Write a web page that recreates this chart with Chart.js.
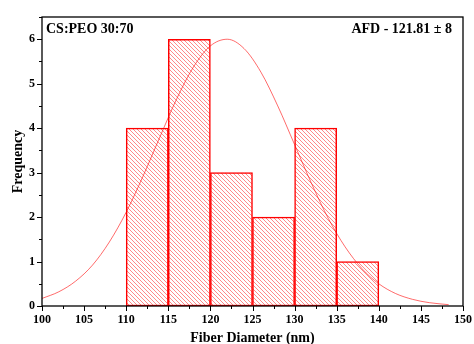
<!DOCTYPE html>
<html>
<head>
<meta charset="utf-8">
<script src="https://cdn.jsdelivr.net/npm/chart.js@4.4.1/dist/chart.umd.min.js"></script>
<style>
  html, body { margin: 0; padding: 0; background: #fff; }
  #wrap { width: 474px; height: 344px; }
</style>
</head>
<body>
<div id="wrap"><canvas id="histChart" width="474" height="344"></canvas></div>
<script>
// --- data ---
const binCentres = [112.5, 117.5, 122.5, 127.5, 132.5, 137.5];
const binCounts = [4, 6, 3, 2, 4, 1];

// fitted normal curve, sampled by eye
const curveX = [100, 102, 104, 106, 108, 110, 112, 114, 116, 118, 120, 122, 124, 126, 128, 130, 132, 134, 136, 138, 140, 142, 144, 146, 148.3];
const curveY = [0.17, 0.32, 0.56, 0.92, 1.44, 2.11, 2.92, 3.80, 4.66, 5.38, 5.85, 6.00, 5.79, 5.26, 4.50, 3.63, 2.76, 1.97, 1.33, 0.84, 0.50, 0.28, 0.15, 0.075, 0.03];

const xTickValues = [100, 105, 110, 115, 120, 125, 130, 135, 140, 145, 150];
const yTickValues = [0, 1, 2, 3, 4, 5, 6];

const sampleLabel = 'CS:PEO 30:70';
const afdLabel = 'AFD - 121.81 \u00b1 8';

const serif = '"Liberation Serif", "Times New Roman", serif';

// hatch fill for the bars ("\\\\" lines)
function makeHatch() {
  const s = 4;
  const c = document.createElement('canvas');
  c.width = s; c.height = s;
  const g = c.getContext('2d');
  g.fillStyle = '#fff';
  g.fillRect(0, 0, s, s);
  g.strokeStyle = 'rgba(255,40,40,0.55)';
  g.lineWidth = 1;
  g.beginPath();
  g.moveTo(-1, -1); g.lineTo(s + 1, s + 1);
  g.moveTo(-1, s - 1); g.lineTo(1, s + 1);
  g.moveTo(s - 1, -1); g.lineTo(s + 1, 1);
  g.stroke();
  return g.createPattern(c, 'repeat');
}
const hatch = makeHatch();

// frame, ticks (major + minor) and corner texts
const decorations = {
  id: 'decorations',
  afterDraw(chart) {
    const { ctx, chartArea: a, scales } = chart;
    const xs = scales.x, ys = scales.y;
    ctx.save();
    ctx.strokeStyle = '#000';
    ctx.lineWidth = 1.3;
    ctx.strokeRect(a.left, a.top, a.right - a.left, a.bottom - a.top);

    ctx.lineWidth = 1;
    ctx.beginPath();
    for (let i = 0; i < xTickValues.length; i++) {
      const px = Math.round(xs.getPixelForValue(xTickValues[i])) + 0.5;
      ctx.moveTo(px, a.bottom); ctx.lineTo(px, a.bottom + 5);
      if (i < xTickValues.length - 1) {
        const mx = Math.round(xs.getPixelForValue((xTickValues[i] + xTickValues[i + 1]) / 2)) + 0.5;
        ctx.moveTo(mx, a.bottom); ctx.lineTo(mx, a.bottom + 3);
      }
    }
    for (let i = 0; i < yTickValues.length; i++) {
      const py = Math.round(ys.getPixelForValue(yTickValues[i])) + 0.5;
      ctx.moveTo(a.left, py); ctx.lineTo(a.left - 5, py);
      const my = Math.round(ys.getPixelForValue(yTickValues[i] + 0.5)) + 0.5;
      if (my > a.top) { ctx.moveTo(a.left, my); ctx.lineTo(a.left - 3, my); }
    }
    ctx.stroke();

    ctx.fillStyle = '#000';
    ctx.font = 'bold 14px ' + serif;
    ctx.textBaseline = 'alphabetic';
    ctx.textAlign = 'left';
    ctx.fillText(sampleLabel, a.left + 4, a.top + 16);
    ctx.textAlign = 'right';
    ctx.fillText(afdLabel, a.right - 11, a.top + 16);
    ctx.restore();
  }
};

const ctx = document.getElementById('histChart').getContext('2d');
new Chart(ctx, {
  data: {
    datasets: [
      {
        type: 'line',
        order: 0,
        data: curveX.map((x, i) => ({ x: x, y: curveY[i] })),
        borderColor: 'rgba(255,0,0,0.65)',
        borderWidth: 0.9,
        pointRadius: 0,
        cubicInterpolationMode: 'monotone',
        fill: false
      },
      {
        type: 'bar',
        order: 1,
        data: binCentres.map((x, i) => ({ x: x, y: binCounts[i] })),
        backgroundColor: hatch,
        borderColor: '#ff0000',
        borderWidth: 1.5,
        borderSkipped: false,
        barPercentage: 1,
        categoryPercentage: 1,
        grouped: false
      }
    ]
  },
  options: {
    responsive: false,
    animation: false,
    layout: { padding: { top: 17, right: 11, left: 0, bottom: 0 } },
    plugins: { legend: { display: false }, tooltip: { enabled: false } },
    scales: {
      x: {
        type: 'linear',
        min: 100,
        max: 150,
        offset: false,
        afterFit: (s) => { s.height = 38; s.paddingLeft = 0; s.paddingRight = 0; },
        grid: { display: false, drawTicks: false },
        border: { display: false },
        ticks: {
          stepSize: 5,
          padding: 7,
          color: '#000',
          maxRotation: 0,
          font: { family: serif, size: 12, weight: 'bold' }
        },
        title: {
          display: true,
          text: 'Fiber Diameter (nm)',
          color: '#000',
          padding: { top: 0, bottom: -3 },
          font: { family: serif, size: 14, weight: 'bold' }
        }
      },
      y: {
        min: 0,
        max: 6.5,
        afterFit: (s) => { s.width = 42; s.paddingTop = 0; s.paddingBottom = 0; },
        grid: { display: false, drawTicks: false },
        border: { display: false },
        ticks: {
          stepSize: 1,
          padding: 7,
          color: '#000',
          font: { family: serif, size: 12, weight: 'bold' },
          callback: (v) => Number.isInteger(v) ? v : ''
        },
        title: {
          display: true,
          text: 'Frequency',
          color: '#000',
          padding: { top: 10, bottom: 0 },
          font: { family: serif, size: 14, weight: 'bold' }
        }
      }
    }
  },
  plugins: [decorations]
});
</script>
</body>
</html>
